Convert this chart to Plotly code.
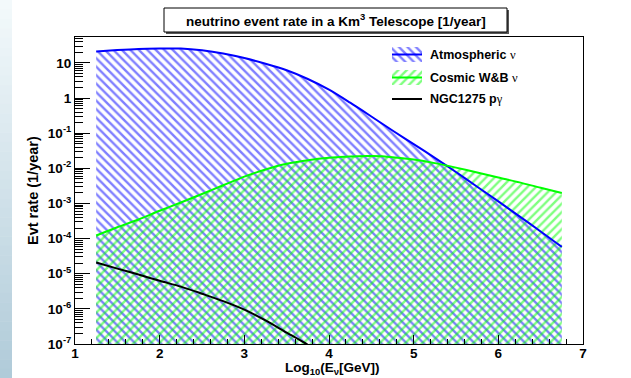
import numpy as np
import plotly.graph_objects as go

# log10(E_nu / GeV) sampling of the rate curves
log_e = [1.25, 1.5, 1.75, 2.0, 2.25, 2.5, 2.75, 3.0, 3.25, 3.5, 3.75, 4.0,
         4.25, 4.5, 4.75, 5.0, 5.25, 5.5, 5.75, 6.0, 6.25, 6.5, 6.75]

# event rates (1/year)
atmospheric = [21.4, 23.4, 25.1, 25.7, 25.7, 22.9, 18.6, 13.8, 9.5, 6.2, 3.5, 1.74,
               0.74, 0.30, 0.12, 0.049, 0.020, 7.9e-3, 3.0e-3, 1.15e-3, 4.3e-4, 1.6e-4, 5.8e-5]
cosmic_wb = [1.23e-4, 2.1e-4, 3.5e-4, 6.2e-4, 1.07e-3, 1.86e-3, 3.3e-3, 5.8e-3, 9.3e-3,
             0.0135, 0.017, 0.020, 0.0219, 0.0224, 0.0209, 0.0178, 0.0141, 0.0105,
             7.6e-3, 5.5e-3, 4.0e-3, 2.8e-3, 2.0e-3]

log_e_ngc = [1.25, 1.5, 1.75, 2.0, 2.25, 2.5, 2.75, 3.0, 3.25, 3.5, 3.75, 4.0]
ngc1275 = [2.1e-5, 1.4e-5, 9.5e-6, 6.3e-6, 4.3e-6, 2.7e-6, 1.66e-6, 9.5e-7,
           4.7e-7, 2.1e-7, 9.5e-8, 4.0e-8]

x_ticks = [1, 2, 3, 4, 5, 6, 7]
y_exps = [-7, -6, -5, -4, -3, -2, -1, 0, 1]
y_floor = 1e-7

W, H = 631, 378
L, R, T, B = 75, 583, 37, 344  # plot frame in pixels

FONT = "Liberation Sans, Arial, Helvetica, sans-serif"
GREEK = "Liberation Serif, DejaVu Serif, serif"
HATCH = dict(size=6, solidity=0.4)


def px(xp):
    return (xp - L) / (R - L)


def py(yp):
    return (B - yp) / (B - T)


fig = go.Figure()

# hatched areas under the two spectra
for xs, ys, col, shp in [(log_e, atmospheric, "#0000ff", "\\"),
                         (log_e, cosmic_wb, "#00ff00", "/")]:
    fig.add_trace(go.Scatter(
        x=xs + [xs[-1], xs[0]], y=ys + [y_floor, y_floor],
        mode="lines", fill="toself", line=dict(width=0, shape="linear"),
        fillcolor="rgba(0,0,0,0)",
        fillpattern=dict(shape=shp, fgcolor=col, bgcolor="rgba(0,0,0,0)", **HATCH),
        hoverinfo="skip", showlegend=False))

# curves
fig.add_trace(go.Scatter(x=log_e, y=atmospheric, mode="lines",
                         line=dict(color="#0000ff", width=2, shape="spline", smoothing=0.8),
                         showlegend=False))
fig.add_trace(go.Scatter(x=log_e, y=cosmic_wb, mode="lines",
                         line=dict(color="#00ff00", width=2, shape="spline", smoothing=0.8),
                         showlegend=False))
fig.add_trace(go.Scatter(x=log_e_ngc, y=ngc1275, mode="lines",
                         line=dict(color="#000000", width=2, shape="spline", smoothing=0.8),
                         showlegend=False))

# legend symbols on a pixel-space overlay
legend_rows = [("#0000ff", "\\", 47, 62), ("#00ff00", "/", 70, 85)]
for col, shp, y0, y1 in legend_rows:
    fig.add_trace(go.Scatter(
        x=[392, 422, 422, 392, 392], y=[y0, y0, y1, y1, y0],
        xaxis="x2", yaxis="y2", mode="lines", fill="toself",
        line=dict(width=0), fillcolor="rgba(0,0,0,0)",
        fillpattern=dict(shape=shp, fgcolor=col, bgcolor="rgba(0,0,0,0)", **HATCH),
        hoverinfo="skip", showlegend=False))
    ym = (y0 + y1) / 2
    fig.add_trace(go.Scatter(x=[392, 422], y=[ym, ym], xaxis="x2", yaxis="y2",
                             mode="lines", line=dict(color=col, width=2),
                             hoverinfo="skip", showlegend=False))
fig.add_trace(go.Scatter(x=[392, 422], y=[99, 99], xaxis="x2", yaxis="y2",
                         mode="lines", line=dict(color="#000000", width=2),
                         hoverinfo="skip", showlegend=False))

legend_text = [("<b>Atmospheric</b> <span style='font-family:%s'>ν</span>" % GREEK, 54.5),
               ("<b>Cosmic W&B</b> <span style='font-family:%s'>ν</span>" % GREEK, 77.5),
               ("<b>NGC1275 p</b><span style='font-family:%s'>γ</span>" % GREEK, 99)]
annotations = []
for txt, yy in legend_text:
    annotations.append(dict(x=428, y=yy, xref="x2", yref="y2", text=txt,
                            showarrow=False, xanchor="left", yanchor="middle",
                            font=dict(family=FONT, size=12.5, color="#000")))

# title pave
annotations.append(dict(x=px(335.5), y=py(20.5), xref="paper", yref="paper",
                        text="<b>neutrino event rate in a Km<sup>3</sup> Telescope [1/year]</b>",
                        showarrow=False, xanchor="center", yanchor="middle",
                        font=dict(family=FONT, size=13.5, color="#000")))
# axis titles
annotations.append(dict(x=px(332), y=py(368), xref="paper", yref="paper",
                        text="<b>Log<sub>10</sub>(E<sub>ν</sub>[GeV])</b>",
                        showarrow=False, xanchor="center", yanchor="middle",
                        font=dict(family=FONT, size=13.5, color="#000")))
annotations.append(dict(x=px(33), y=py(191), xref="paper", yref="paper",
                        text="<b>Evt rate (1/year)</b>", textangle=-90,
                        showarrow=False, xanchor="center", yanchor="middle",
                        font=dict(family=FONT, size=14.5, color="#000")))

shapes = []
# pale blue strip on the left edge
n_bands = 40
c_top = np.array([0xf4, 0xfa, 0xfc])
c_bot = np.array([0xb0, 0xcb, 0xd9])
for i in range(n_bands):
    f = (i + 0.5) / n_bands
    c = (c_top * (1 - f) + c_bot * f).astype(int)
    shapes.append(dict(type="rect", xref="paper", yref="paper",
                       x0=px(0), x1=px(12), y0=py(H * i / n_bands), y1=py(H * (i + 1) / n_bands + 0.5),
                       line=dict(width=0), fillcolor="rgb(%d,%d,%d)" % tuple(c), layer="below"))
# title box with shadow
shapes.append(dict(type="rect", xref="paper", yref="paper",
                   x0=px(166), x1=px(509), y0=py(10), y1=py(34),
                   line=dict(width=0), fillcolor="#555555"))
shapes.append(dict(type="rect", xref="paper", yref="paper",
                   x0=px(164), x1=px(507), y0=py(8), y1=py(32),
                   line=dict(width=1, color="#000000"), fillcolor="#ffffff"))

y_minor = [k * 10.0 ** e for e in range(-7, 2) for k in range(2, 10)]

fig.update_layout(
    width=W, height=H,
    margin=dict(l=L, r=W - R, t=T, b=H - B),
    paper_bgcolor="white", plot_bgcolor="white",
    showlegend=False,
    xaxis=dict(range=[1, 7], showgrid=False, zeroline=False,
               showline=True, linecolor="black", linewidth=1, mirror=True,
               ticks="inside", ticklen=9, tickcolor="black",
               tickvals=x_ticks, ticktext=["<b>%d</b>" % v for v in x_ticks],
               tickfont=dict(family=FONT, size=13.5, color="black"),
               ticklabelstandoff=-3,
               minor=dict(ticks="inside", ticklen=5, dtick=0.2, tick0=1, tickcolor="black", showgrid=False)),
    yaxis=dict(type="log", range=[-7, 1.74], showgrid=False, zeroline=False,
               showline=True, linecolor="black", linewidth=1, mirror=True,
               ticks="inside", ticklen=15, tickcolor="black",
               tickvals=[10.0 ** e for e in y_exps],
               ticktext=["<b>1</b>" if e == 0 else "<b>10</b>" if e == 1 else "<b>10<sup>%d</sup></b>" % e
                         for e in y_exps],
               tickfont=dict(family=FONT, size=13.5, color="black"),
               minor=dict(ticks="inside", ticklen=8, tickvals=y_minor, tickcolor="black", showgrid=False)),
    xaxis2=dict(overlaying="x", range=[L, R], visible=False),
    yaxis2=dict(overlaying="y", range=[B, T], visible=False),
    annotations=annotations,
    shapes=shapes,
)

fig.write_html("out.html")
